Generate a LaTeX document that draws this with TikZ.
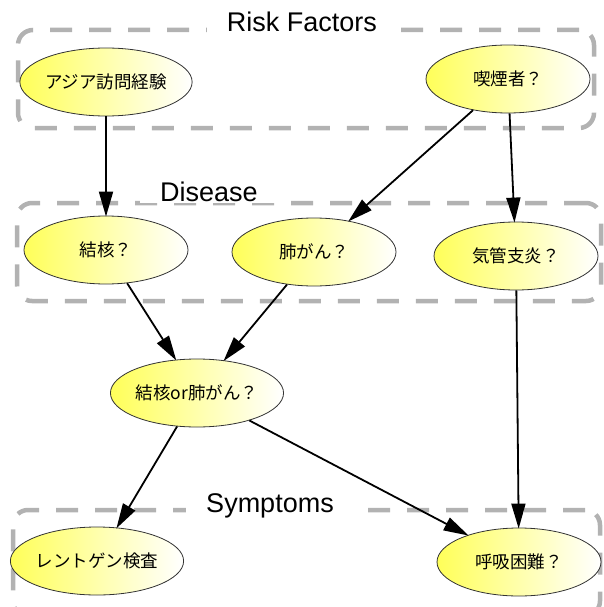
\documentclass[tikz,border=0pt]{standalone}
\usepackage{fontspec}
\setmainfont{Liberation Sans}
\newfontfamily\jpfont{Noto Sans CJK JP}
\usetikzlibrary{arrows.meta,shapes.geometric}

\begin{document}
\begin{tikzpicture}[x=1pt,y=-1pt]
    % Definizione stili
    \tikzset{evento/.style={ellipse, draw=black!80, line width=0.8pt, left color=yellow!65, right color=white, minimum width=164pt, minimum height=68pt, inner sep=0pt, font=\jpfont\fontsize{17.5}{20}\selectfont}}
    \tikzstyle{gruppo}=[draw=gray!60, line width=4.5pt, dash pattern=on 22pt off 17pt, rounded corners=15pt]
    \tikzstyle{titolo}=[fill=white, inner xsep=20pt, inner ysep=1pt, font=\fontsize{27}{30}\selectfont]
    \tikzstyle{freccia}=[-{Triangle[length=25pt,width=14pt]}, line width=1.8pt, shorten >=-1pt]

    \useasboundingbox (0,0) rectangle (603,607);

    % Gruppi
    \node[gruppo, minimum width=576pt, minimum height=98pt] (box_rischio) at (306,79) {};
    \node[gruppo, minimum width=584pt, minimum height=98pt] (box_malattia) at (309,252) {};
    \node[gruppo, minimum width=587pt, minimum height=106pt] (box_sintomi) at (306.5,563) {};

    \node[titolo] (lbl_rischio) at (302,22) {Risk Factors};
    \node[titolo] (lbl_malattia) at (209,192) {Disease};
    \node[titolo] (lbl_sintomi) at (270,506) {Symptoms};

    % Fattori di rischio
    \node[evento] (n_asia) at (106,82) {アジア訪問経験};
    \node[evento] (n_fumo) at (508,79) {喫煙者？};

    % Malattie
    \node[evento] (n_tbc) at (106,250) {結核？};
    \node[evento] (n_cancro) at (314,252) {肺がん？};
    \node[evento] (n_bronchite) at (516,256) {気管支炎？};
    \node[evento] (n_tbc_cancro) at (197,393) {結核or肺がん？};

    % Sintomi
    \node[evento] (n_xray) at (97,561) {レントゲン検査};
    \node[evento] (n_dispnea) at (519,562) {呼吸困難？};

    % Archi
    \draw[freccia] (n_asia) -- (n_tbc);
    \draw[freccia] (n_fumo) -- (n_cancro);
    \draw[freccia] (n_fumo) -- (n_bronchite);
    \draw[freccia] (n_tbc) -- (n_tbc_cancro);
    \draw[freccia] (n_cancro) -- (n_tbc_cancro);
    \draw[freccia] (n_tbc_cancro) -- (n_xray);
    \draw[freccia] (n_tbc_cancro) -- (n_dispnea);
    \draw[freccia] (n_bronchite) -- (n_dispnea);
\end{tikzpicture}
\end{document}
